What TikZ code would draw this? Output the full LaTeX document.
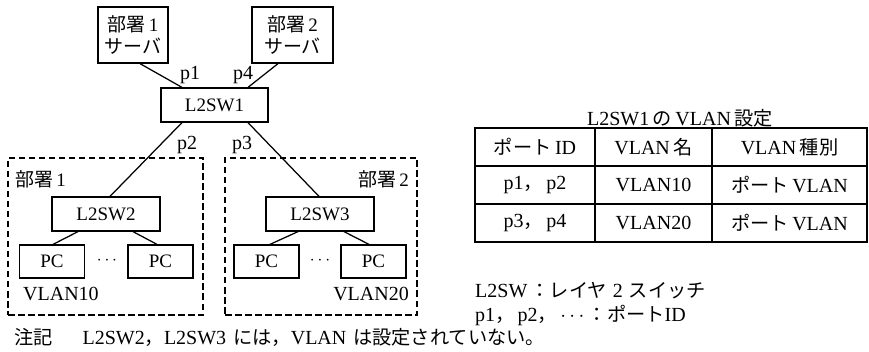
\documentclass[tikz,border=0pt]{standalone}
\usepackage{fontspec}
\setmainfont{Liberation Serif}
\newfontfamily\jp{Noto Sans CJK JP}
\newfontfamily\jpl[Scale=0.96]{Noto Sans CJK JP}
\newcommand{\J}[1]{{\jp #1}}
\newcommand{\K}[1]{{\jpl #1}}
\newcommand{\js}{\hspace{3.5pt}}
\begin{document}
\begin{tikzpicture}[x=1pt,y=-1pt,
  txt/.style={font=\fontsize{19}{23}\selectfont},
  big/.style={font=\fontsize{20}{24}\selectfont},
  box/.style={draw, line width=1.25pt, inner sep=0pt, align=center, txt},
  link/.style={line width=1.25pt},
  dbox/.style={draw, line width=1.5pt, dash pattern=on 6.5pt off 3.5pt, inner sep=0pt},
  lbl/.style={inner sep=0pt, txt},
  tlbl/.style={inner sep=0pt, big},
  grid/.style={line width=1.3pt}]
\useasboundingbox (0,0) rectangle (869,352);

% servers and switches
\node[box, minimum width=70pt, minimum height=56pt] (s1) at (133,35) {\J{部署}\,1\\[-1pt]\J{サーバ}};
\node[box, minimum width=81pt, minimum height=56pt] (s2) at (292.5,35) {\J{部署}\,2\\[-1pt]\J{サーバ}};
\node[box, minimum width=107pt, minimum height=34pt] (sw1) at (214.5,105) {L2SW1};

% dashed department areas
\node[dbox, minimum width=195pt, minimum height=157pt] (d1) at (105.5,236.5) {};
\node[dbox, minimum width=192pt, minimum height=157pt] (d2) at (321,236.5) {};

\node[box, minimum width=108pt, minimum height=34pt] (sw2) at (106,214) {L2SW2};
\node[box, minimum width=108pt, minimum height=34pt] (sw3) at (320,214) {L2SW3};

\node[box, minimum width=65pt, minimum height=33pt] (pc1) at (52,261.5) {PC};
\node[box, minimum width=65pt, minimum height=33pt] (pc2) at (160.5,261.5) {PC};
\node[box, minimum width=65pt, minimum height=33pt] (pc3) at (266.5,261.5) {PC};
\node[box, minimum width=65pt, minimum height=33pt] (pc4) at (373.5,261.5) {PC};
\node[lbl] (dots1) at (107,261) {$\cdots$};
\node[lbl] (dots2) at (320,261) {$\cdots$};

% connectors
\draw[link] ([xshift=7pt]s1.south) -- ([xshift=-32.5pt]sw1.north);
\draw[link] ([xshift=-14.5pt]s2.south) -- ([xshift=33.5pt]sw1.north);
\draw[link] ([xshift=-32.5pt]sw1.south) -- ([xshift=4pt]sw2.north);
\draw[link] ([xshift=33.5pt]sw1.south) -- ([xshift=-1pt]sw3.north);
\draw[link] ([xshift=-28pt]sw2.south) -- ([xshift=1pt]pc1.north);
\draw[link] ([xshift=27pt]sw2.south) -- ([xshift=-3.5pt]pc2.north);
\draw[link] ([xshift=-22pt]sw3.south) -- ([xshift=3.5pt]pc3.north);
\draw[link] ([xshift=24pt]sw3.south) -- ([xshift=-4.5pt]pc4.north);

% port labels
\node[tlbl] (p1) at (190,75) {p1};
\node[tlbl] (p4) at (243,75) {p4};
\node[tlbl] (p2) at (187,145) {p2};
\node[tlbl] (p3) at (242,145) {p3};

% area labels
\node[lbl, anchor=west] (a1) at (15,179) {\J{部署}\,1};
\node[lbl, anchor=east] (a2) at (409,179) {\J{部署}\,2};
\node[tlbl, anchor=west] (v1) at (23,294) {VLAN10};
\node[tlbl, anchor=east] (v2) at (409,294) {VLAN20};

% table
\node[tlbl] (title) at (680,118) {L2SW1\js\K{の}\js VLAN\js\K{設定}};
\draw[grid] (475,128) rectangle (867,242);
\draw[grid] (475,166) -- (867,166);
\draw[grid] (475,204) -- (867,204);
\draw[grid] (595,128) -- (595,242);
\draw[grid] (712,128) -- (712,242);
\node[tlbl] (h1) at (535,147) {\K{ポート}\js ID};
\node[tlbl] (h2) at (653.5,147) {VLAN\js\K{名}};
\node[tlbl] (h3) at (789.5,147) {VLAN\js\K{種別}};
\node[tlbl] (c11) at (535,185) {p1\K{，}\,p2};
\node[tlbl] (c12) at (653.5,185) {VLAN10};
\node[tlbl] (c13) at (789.5,185) {\K{ポート}\js VLAN};
\node[tlbl] (c21) at (535,223) {p3\K{，}\,p4};
\node[tlbl] (c22) at (653.5,223) {VLAN20};
\node[tlbl] (c23) at (789.5,223) {\K{ポート}\js VLAN};

% legends
\node[tlbl, anchor=west] (n1) at (475,291) {L2SW\,\K{：レイヤ}\hspace{6pt}2\hspace{6pt}\K{スイッチ}};
\node[tlbl, anchor=west] (n2) at (475,315) {p1\K{，}\,p2\K{，}\,$\cdots$\,\K{：ポート}ID};
\node[tlbl, anchor=west] (n3) at (14,337)
  {\K{注記}\hspace{30pt}L2SW2\K{，}L2SW3\hspace{7pt}\K{には，}VLAN\hspace{7pt}\K{は設定されていない。}};
\end{tikzpicture}
\end{document}
